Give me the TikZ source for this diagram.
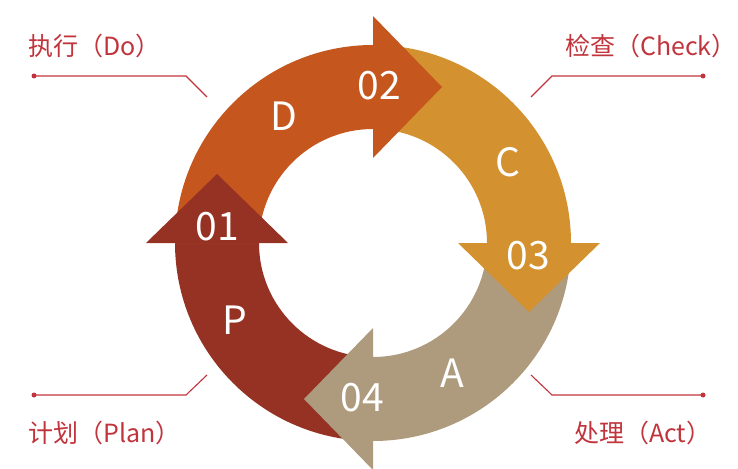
\documentclass[tikz,border=0pt]{standalone}
\usepackage{fontspec}
\setmainfont{Noto Sans CJK SC}
\definecolor{cP}{HTML}{963224}
\definecolor{cD}{HTML}{C4561E}
\definecolor{cC}{HTML}{D3912F}
\definecolor{cA}{HTML}{AE9A7C}
\definecolor{cT}{HTML}{C1343C}
\tikzset{
  big/.style={text=white, inner sep=0pt, font=\fontsize{39}{39}\selectfont},
  lab/.style={text=cT, inner sep=0pt, anchor=base west, font=\fontsize{25}{26}\selectfont},
  leader/.style={draw=cT, line width=1.1pt},
  dotmark/.style={circle, fill=cT, inner sep=0pt, minimum size=5pt},
}
\newcommand{\ringsector}[3]{%
  \fill[#3] (O) ++(#1:198) arc[start angle=#1, end angle=#2, radius=198]
    -- ($(O)+(#2:114)$) arc[start angle=#2, end angle=#1, radius=114] -- cycle;}
\newcommand{\arrowhead}[2]{%
  \fill[#2] ($(O)+(#1:85)$) -- ($(O)+(#1:227)$) -- ($(O)+(#1:156)+(#1+90:69)$) -- cycle;}
\usetikzlibrary{calc}
\begin{document}
\begin{tikzpicture}[x=1pt,y=-1pt]
\useasboundingbox (0,0) rectangle (738,468);
\coordinate (O) at (373,243);
% ring sectors
\ringsector{90}{180}{cP}
\ringsector{180}{270}{cD}
\ringsector{270}{360}{cC}
\ringsector{0}{90}{cA}
% arrow heads
\arrowhead{180}{cP}
\arrowhead{270}{cD}
\arrowhead{360}{cC}
\arrowhead{90}{cA}
% white texts
\node[big] (n01) at (217,227) {01};
\node[big] (n02) at (379,86) {02};
\node[big] (n03) at (528,256) {03};
\node[big] (n04) at (362,398) {04};
\node[big] (lD) at (284,116) {D};
\node[big] (lC) at (508,162) {C};
\node[big] (lA) at (452,373) {A};
\node[big] (lP) at (235,320) {P};
% labels
\node[lab] (tDo) at (28,56) {执行（Do）};
\node[lab] (tCheck) at (565,56) {检查（Check）};
\node[lab] (tPlan) at (28,442) {计划（Plan）};
\node[lab] (tAct) at (574,442) {处理（Act）};
% leaders
\node[dotmark] (d1) at (34,76) {};
\coordinate (k1) at (186,76);
\coordinate (e1) at (207,97);
\draw[leader] (d1.center) -- (k1) -- (e1);
\node[dotmark] (d2) at (703,76) {};
\coordinate (k2) at (552,76);
\coordinate (e2) at (531,97);
\draw[leader] (d2.center) -- (k2) -- (e2);
\node[dotmark] (d3) at (34,395) {};
\coordinate (k3) at (186,395);
\coordinate (e3) at (207,375);
\draw[leader] (d3.center) -- (k3) -- (e3);
\node[dotmark] (d4) at (703,395) {};
\coordinate (k4) at (552,395);
\coordinate (e4) at (531,375);
\draw[leader] (d4.center) -- (k4) -- (e4);
\end{tikzpicture}
\end{document}
